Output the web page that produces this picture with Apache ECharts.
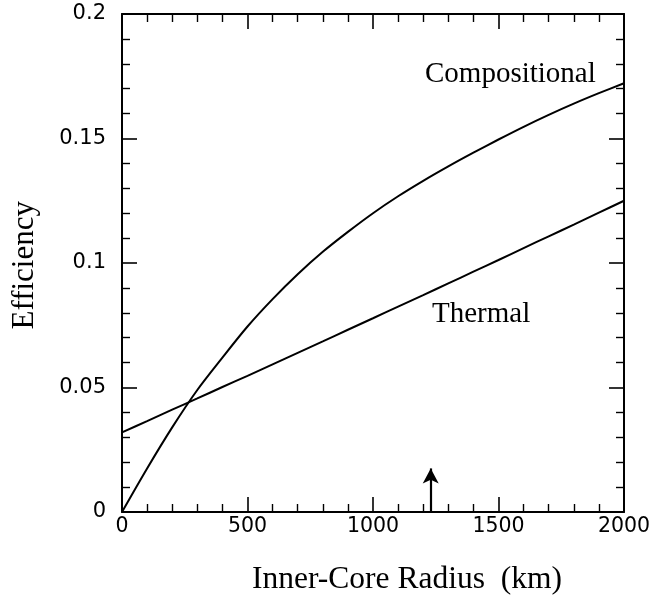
<!DOCTYPE html>
<html>
<head>
<meta charset="utf-8">
<script src="https://cdn.jsdelivr.net/npm/echarts@6/dist/echarts.min.js"></script>
<style>
html,body{margin:0;padding:0;background:#fff;}
#chart{width:668px;height:595px;}
</style>
</head>
<body>
<div id="chart"></div>
<script>
// Inner-core radius (km)
var radius = [0,100,200,300,400,500,600,700,800,900,1000,1100,1200,1300,1400,1500,1600,1700,1800,1900,2000];
// Efficiency values
var compositional = [0.0000,0.0175,0.0340,0.0490,0.0620,0.0745,0.0855,0.0955,0.1045,0.1125,0.1200,0.1268,0.1330,0.1388,0.1443,0.1496,0.1547,0.1595,0.1640,0.1682,0.1722];
var thermal = [0.0320,0.0365,0.0411,0.0456,0.0502,0.0547,0.0593,0.0639,0.0685,0.0732,0.0778,0.0825,0.0871,0.0918,0.0965,0.1012,0.1060,0.1107,0.1154,0.1202,0.1250];
// Present-day inner-core radius arrow
var arrowX = 1230;
var arrowTop = 0.0175;
var xTicks = [0,500,1000,1500,2000];
var yTicks = [0,0.05,0.1,0.15,0.2];

function pairs(xs, ys){ return xs.map(function(x,i){ return [x, ys[i]]; }); }

var chart = echarts.init(document.getElementById('chart'), null, {renderer:'canvas'});
var lineStyleAxis = {color:'#000', width:2};

function xAxisDef(pos, showLabels){
  return {
    type:'value', position:pos, min:xTicks[0], max:xTicks[xTicks.length-1], interval:500,
    axisLine:{show:true, onZero:false, lineStyle:lineStyleAxis},
    axisTick:{show:true, inside:true, length:15, lineStyle:{color:'#000', width:1.6}},
    minorTick:{show:true, splitNumber:5, length:8, lineStyle:{color:'#000', width:1.4}},
    axisLabel:{show:showLabels, margin:4, formatter:function(v){return String(v);}, color:'#000', fontFamily:'DejaVu Sans', fontSize:20.5},
    splitLine:{show:false}
  };
}
function yAxisDef(pos, showLabels){
  return {
    type:'value', position:pos, min:yTicks[0], max:yTicks[yTicks.length-1], interval:0.05,
    axisLine:{show:true, onZero:false, lineStyle:lineStyleAxis},
    axisTick:{show:true, inside:true, length:15, lineStyle:{color:'#000', width:1.6}},
    minorTick:{show:true, splitNumber:5, length:8, lineStyle:{color:'#000', width:1.4}},
    axisLabel:{show:showLabels, margin:16, formatter:function(v){return String(+v.toFixed(2));}, color:'#000', fontFamily:'DejaVu Sans', fontSize:21},
    splitLine:{show:false}
  };
}

var option = {
  backgroundColor:'#fff',
  animation:false,
  grid:{left:122, right:44, top:14, bottom:83, containLabel:false},
  xAxis:[xAxisDef('bottom', true), xAxisDef('top', false)],
  yAxis:[yAxisDef('left', true), yAxisDef('right', false)],
  series:[
    {name:'Compositional', type:'line', xAxisIndex:0, yAxisIndex:0, data:pairs(radius, compositional),
     showSymbol:false, smooth:0.3, lineStyle:{color:'#000', width:2}},
    {name:'Thermal', type:'line', xAxisIndex:0, yAxisIndex:0, data:pairs(radius, thermal),
     showSymbol:false, smooth:0.3, lineStyle:{color:'#000', width:2}},
    {name:'arrow', type:'line', xAxisIndex:0, yAxisIndex:0, data:[], 
     markLine:{silent:true, symbol:['none','arrow'], symbolSize:[12,15], label:{show:false},
       lineStyle:{color:'#000', width:2.2, type:'solid'},
       data:[[{coord:[arrowX,0]},{coord:[arrowX,arrowTop]}]]}}
  ],
  graphic:[
    {type:'text', left:425, top:60, style:{text:'Compositional', fill:'#000', font:'29px "Liberation Serif"'}},
    {type:'text', left:432, top:300, style:{text:'Thermal', fill:'#000', font:'29px "Liberation Serif"'}},
    {type:'text', left:252, top:564, style:{text:'Inner-Core Radius  (km)', fill:'#000', font:'31.5px "Liberation Serif"'}},
    {type:'text', left:9, top:201, rotation:Math.PI/2, style:{text:'Efficiency', fill:'#000', font:'31px "Liberation Serif"'}}
  ]
};
chart.setOption(option);
</script>
</body>
</html>
